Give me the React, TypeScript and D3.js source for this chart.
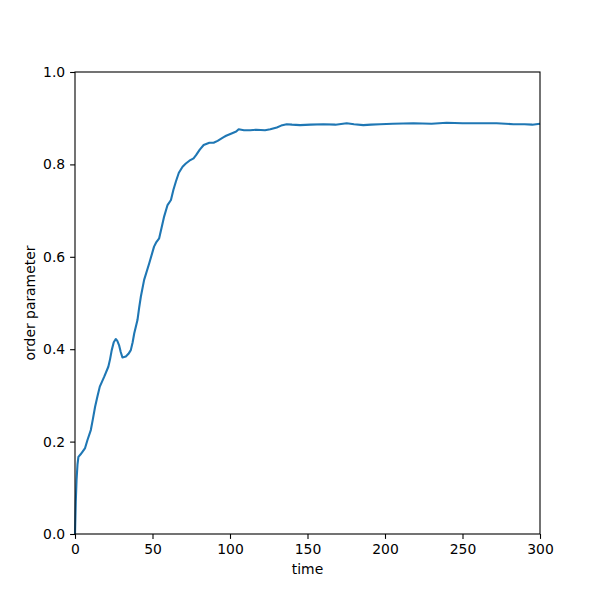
import React, { useEffect, useRef } from 'react';
import * as d3 from 'd3';

// values
const times = [0, 0.5, 1, 1.6, 2.2, 3.5, 4.8, 6.5, 8, 10.2, 11.5, 13, 14.5, 16, 18.8, 21.5, 22.6, 23.7, 25, 26.3, 27.3, 28.4, 29.5, 30.6, 32.8, 34.5, 36, 37.2, 38.2, 40.3, 41.4, 42.5, 44.6, 47.9, 51, 52.5, 54.3, 56, 57.5, 59.7, 61.9, 63.5, 65.1, 67, 69.4, 71.5, 73.8, 76.5, 78.1, 80.5, 83, 86.7, 89.4, 92, 95.9, 97.5, 101, 104, 105.6, 109, 113, 117, 122.6, 126, 130.2, 133, 136.6, 140, 145.2, 152, 160.3, 168, 175.3, 180, 186, 191, 196.8, 205, 218.3, 230, 239.8, 250, 261.3, 272, 282.8, 290, 295, 300];
const order = [0.0, 0.07, 0.117, 0.15, 0.167, 0.172, 0.178, 0.186, 0.203, 0.225, 0.248, 0.276, 0.298, 0.319, 0.34, 0.362, 0.378, 0.398, 0.415, 0.422, 0.418, 0.409, 0.394, 0.382, 0.384, 0.39, 0.398, 0.415, 0.434, 0.463, 0.49, 0.514, 0.55, 0.586, 0.622, 0.632, 0.64, 0.665, 0.687, 0.712, 0.723, 0.745, 0.763, 0.782, 0.795, 0.802, 0.808, 0.813, 0.82, 0.832, 0.842, 0.847, 0.847, 0.851, 0.859, 0.862, 0.867, 0.871, 0.876, 0.874, 0.874, 0.875, 0.874, 0.876, 0.88, 0.884, 0.887, 0.886, 0.885, 0.886, 0.887, 0.886, 0.889, 0.887, 0.885, 0.886, 0.887, 0.888, 0.889, 0.888, 0.89, 0.889, 0.889, 0.889, 0.887, 0.887, 0.886, 0.888];
const xTicks = [0, 50, 100, 150, 200, 250, 300];
const yTicks = [0, 0.2, 0.4, 0.6, 0.8, 1.0];

const W = 600;
const H = 600;
const margin = { top: 72, right: 60, bottom: 66, left: 75 };
const font = 'DejaVu Sans, sans-serif';

function drawChart(svgRoot: SVGSVGElement) {
    const svg = d3.select(svgRoot);
    svg.selectChildren().remove();

    const x = d3.scaleLinear().domain([0, 300]).range([margin.left, W - margin.right]);
    const y = d3.scaleLinear().domain([0, 1]).range([H - margin.bottom, margin.top]);

    svg.append('rect').attr('width', W).attr('height', H).attr('fill', '#fff');

    const data = times.map((t, i) => [t, order[i]] as [number, number]);
    const line = d3.line<[number, number]>()
        .x((d) => x(d[0]))
        .y((d) => y(d[1]));

    svg.append('path')
        .datum(data)
        .attr('fill', 'none')
        .attr('stroke', '#1f77b4')
        .attr('stroke-width', 2.1)
        .attr('stroke-linejoin', 'round')
        .attr('d', line);

    // frame
    svg.append('rect')
        .attr('x', margin.left)
        .attr('y', margin.top)
        .attr('width', W - margin.left - margin.right)
        .attr('height', H - margin.top - margin.bottom)
        .attr('fill', 'none')
        .attr('stroke', '#000')
        .attr('stroke-width', 1.1);

    const xAxis = svg.append('g')
        .attr('transform', `translate(0,${H - margin.bottom})`)
        .call(d3.axisBottom(x).tickValues(xTicks).tickFormat(d3.format('d')).tickSize(4.9).tickPadding(4.9));
    const yAxis = svg.append('g')
        .attr('transform', `translate(${margin.left},0)`)
        .call(d3.axisLeft(y).tickValues(yTicks).tickFormat(d3.format('.1f')).tickSize(4.9).tickPadding(4.9));

    [xAxis, yAxis].forEach((a) => {
        a.select('.domain').remove();
        a.selectAll('line').attr('stroke', '#000').attr('stroke-width', 1.1);
        a.selectAll('text').attr('fill', '#000').attr('font-family', font).attr('font-size', 13.9);
    });

    svg.append('text')
        .attr('x', (margin.left + W - margin.right) / 2)
        .attr('y', 574)
        .attr('text-anchor', 'middle')
        .attr('font-family', font)
        .attr('font-size', 13.9)
        .text('time');

    svg.append('text')
        .attr('transform', `translate(35,${(margin.top + H - margin.bottom) / 2}) rotate(-90)`)
        .attr('text-anchor', 'middle')
        .attr('font-family', font)
        .attr('font-size', 13.9)
        .text('order parameter');
}

export default function App() {
    const svgRef = useRef<SVGSVGElement>(null);
    useEffect(() => {
        svgRef.current && drawChart(svgRef.current);
    }, []);
    return (
        <svg ref={svgRef} width={W} height={H}
            style={{ position: 'absolute', left: 0, top: 0, display: 'block' }} />
    );
}
